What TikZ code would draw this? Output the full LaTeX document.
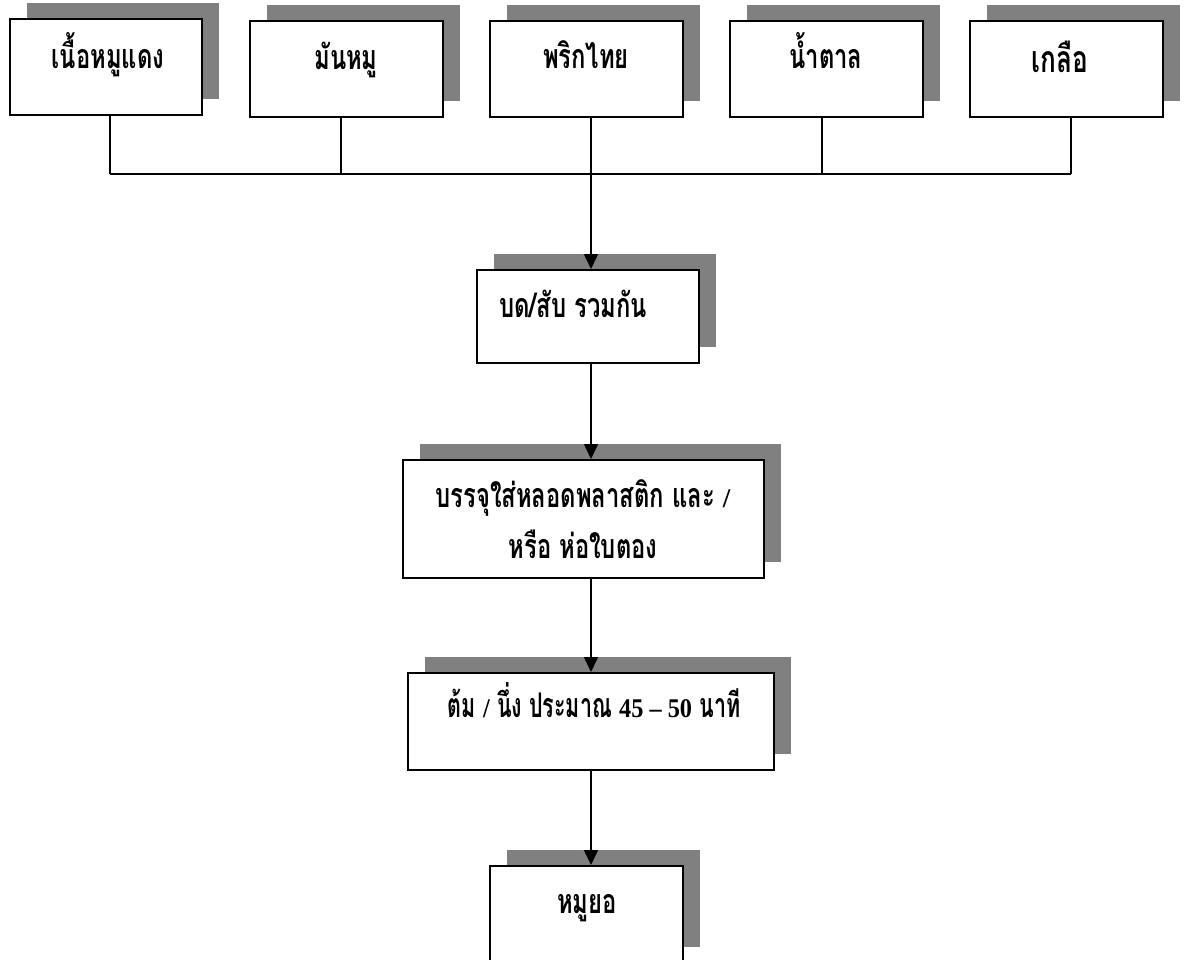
\documentclass[tikz,border=0pt]{standalone}
\usepackage{fontspec}
\newfontfamily\thaifont[Script=Thai, FakeStretch=0.7]{Loma}
\newfontfamily\numfont{Liberation Serif}
\usetikzlibrary{shadows,arrows.meta}
\definecolor{shadowgray}{HTML}{808080}
\newcommand\latinbit[1]{{\numfont\bfseries\fontsize{27}{51}\selectfont #1}}
\tikzset{
  box/.style={draw=black, line width=2pt, fill=white, inner sep=0pt,
    general shadow={fill=shadowgray, shadow xshift=17pt, shadow yshift=16pt}},
  lbl/.style={font=\thaifont\bfseries\fontsize{34}{51}\selectfont, inner sep=0pt,
    align=center, anchor=base},
  link/.style={draw=black, line width=1.5pt},
  flow/.style={link, -{Triangle[length=15pt,width=14pt]}}
}
\begin{document}
\begin{tikzpicture}[x=1pt, y=-1pt]
  \useasboundingbox (0,0) rectangle (1188,959);

  % ingredient boxes
  \node[box, minimum width=192pt, minimum height=96pt] (b1) at (106,67) {};
  \node[box, minimum width=193pt, minimum height=96pt] (b2) at (346.5,69) {};
  \node[box, minimum width=193pt, minimum height=96pt] (b3) at (586.5,69) {};
  \node[box, minimum width=193pt, minimum height=96pt] (b4) at (826.5,69) {};
  \node[box, minimum width=193pt, minimum height=96pt] (b5) at (1066.5,69) {};

  \node[lbl] (t1) at (108,68) {เนื้อหมูแดง};
  \node[lbl] (t2) at (346,69) {มันหมู};
  \node[lbl] (t3) at (586,68) {พริกไทย};
  \node[lbl] (t4) at (826,68) {น้ำตาล};
  \node[lbl, scale=1.1] (t5) at (1060,72) {เกลือ};

  % process steps
  \node[box, minimum width=222pt, minimum height=93pt] (s1) at (588,316.5) {};
  \node[lbl, anchor=base west] (u1) at (499,317) {บด/สับ รวมกัน};

  \node[box, minimum width=361pt, minimum height=118pt] (s2) at (583.5,519) {};
  \node[lbl] (u2) at (583,558) {บรรจุใส่หลอดพลาสติก และ \latinbit{/}\\หรือ ห่อใบตอง};

  \node[box, minimum width=366pt, minimum height=97pt] (s3) at (591,721.5) {};
  \node[lbl, xscale=0.9] (u3) at (594,717) {ต้ม \latinbit{/} นึ่ง ประมาณ \latinbit{45 – 50} นาที};

  \node[box, minimum width=193pt, minimum height=97pt] (s4) at (586.5,914.5) {};
  \node[lbl] (u4) at (587,913) {หมูยอ};

  % collecting bus
  \coordinate (j1) at (110,174);
  \coordinate (j2) at (341,174);
  \coordinate (j3) at (591,174);
  \coordinate (j4) at (822,174);
  \coordinate (j5) at (1071,174);

  \draw[link] (b1.south -| j1) -- (j1);
  \draw[link] (b2.south -| j2) -- (j2);
  \draw[link] (b3.south -| j3) -- (j3);
  \draw[link] (b4.south -| j4) -- (j4);
  \draw[link] (b5.south -| j5) -- (j5);
  \draw[link] (j1) -- (j5);

  % flow between steps
  \draw[flow] (j3) -- (j3 |- s1.north);
  \draw[flow] (s1.south -| j3) -- (j3 |- s2.north);
  \draw[flow] (s2.south -| j3) -- (j3 |- s3.north);
  \draw[flow] (s3.south -| j3) -- (j3 |- s4.north);
\end{tikzpicture}
\end{document}
